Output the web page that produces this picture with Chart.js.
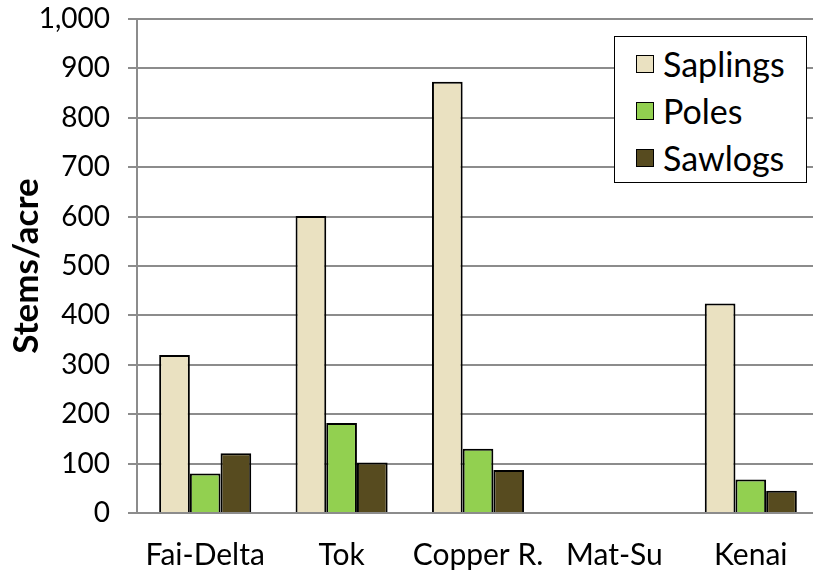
<!DOCTYPE html>
<html>
<head>
<meta charset="utf-8">
<script src="https://cdn.jsdelivr.net/npm/chart.js@4.4.1/dist/chart.umd.min.js"></script>
<style>
  html, body { margin: 0; padding: 0; background: #fff; }
  #wrap { position: relative; width: 813px; height: 570px; overflow: hidden; }
  #legend {
    position: absolute; left: 614px; top: 36px; width: 193px; height: 147px;
    box-sizing: border-box; border: 1.5px solid #000; background: #fff;
    font-family: Lato, sans-serif; font-size: 34px; color: #000;
    padding: 3px 0 0 21px; list-style: none; margin: 0;
  }
  #legend li { height: 47px; display: flex; align-items: center; }
  #legend .dot { width: 16px; height: 16px; border: 1.5px solid #000; margin-right: 9px; flex: none; }
</style>
</head>
<body>
<div id="wrap">
  <!-- el área de trazado sigue un poco más allá del borde derecho, como en la imagen -->
  <canvas id="chart" width="819" height="570"></canvas>
  <ul id="legend"></ul>
</div>
<script>
'use strict';

// ── Datos ─────────────────────────
const CATEGORIES = ['Fai-Delta', 'Tok', 'Copper R.', 'Mat-Su', 'Kenai'];
const SERIES     = ['Saplings', 'Poles', 'Sawlogs'];
const SAPLINGS   = [320, 601, 873, 0, 424];
const POLES      = [80, 182, 130, 0, 68];
const SAWLOGS    = [121, 102, 87, 0, 45];
const Y_TICKS    = [0, 100, 200, 300, 400, 500, 600, 700, 800, 900, 1000];

const COLORS = ['#EAE1C1', '#92D050', '#574B1F'];
const FONT = 'Lato, sans-serif';

const values = [SAPLINGS, POLES, SAWLOGS];

new Chart(document.getElementById('chart'), {
  type: 'bar',
  data: {
    labels: CATEGORIES,
    datasets: SERIES.map((name, i) => ({
      label: name,
      data: values[i],
      backgroundColor: COLORS[i],
      borderColor: '#000',
      borderWidth: 2,
      borderSkipped: 'bottom',
      categoryPercentage: 0.675,
      barPercentage: 1.0,
    }))
  },
  options: {
    responsive: false,
    animation: false,
    layout: { padding: { top: 19, right: 0, left: 0, bottom: 0 } },
    plugins: {
      legend: { display: false },
      tooltip: { enabled: false }
    },
    scales: {
      x: {
        grid: { display: false },
        border: { display: false },
        ticks: { color: '#000', font: { family: FONT, size: 30 }, padding: 16, maxRotation: 0 },
        afterFit: (s) => { s.height = 57; s.paddingLeft = 0; s.paddingRight = 0; }
      },
      y: {
        min: 0,
        max: 1000,
        afterBuildTicks: (s) => { s.ticks = Y_TICKS.map(v => ({ value: v })); },
        grid: { color: '#8C8C8C', lineWidth: 2, tickLength: 9 },
        border: { color: '#8C8C8C', width: 2 },
        ticks: {
          color: '#000',
          font: { family: FONT, size: 28 },
          padding: 18,
          callback: (v) => v.toLocaleString('en-US')
        },
        title: {
          display: true,
          text: 'Stems/acre',
          color: '#000',
          font: { family: FONT, size: 35, weight: 'bold' },
          padding: { top: 6, bottom: 0 }
        },
        afterFit: (s) => { s.width = 137; s.paddingTop = 0; s.paddingBottom = 0; }
      }
    }
  }
});

// Leyenda manual dentro del área
document.getElementById('legend').innerHTML = SERIES.map((name, i) => `
  <li><span class="dot" style="background:${COLORS[i]}"></span><span>${name}</span></li>
`).join('');
</script>
</body>
</html>
